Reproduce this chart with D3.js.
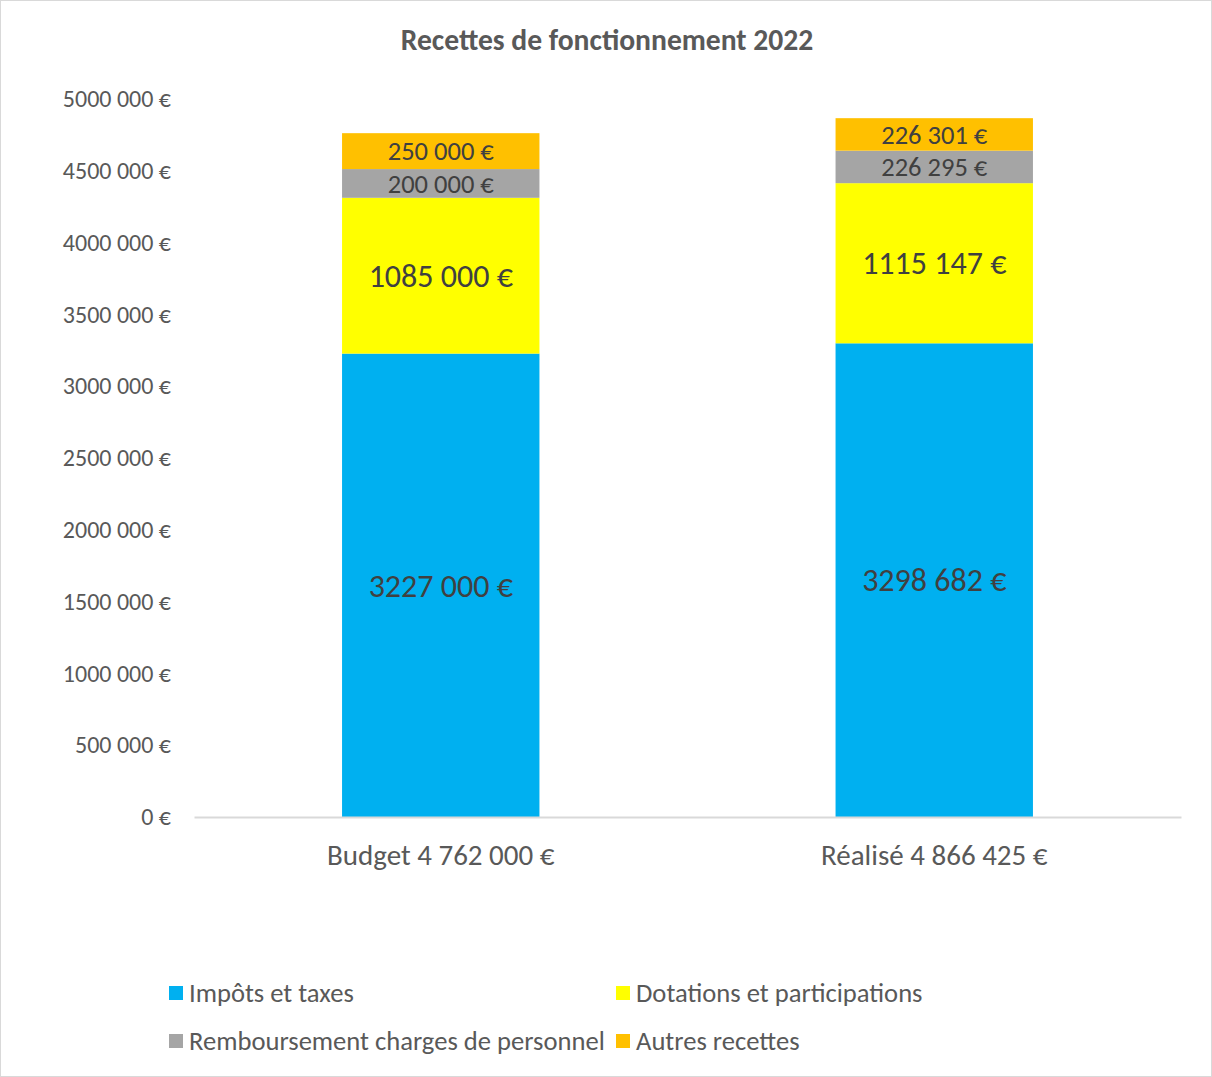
<!DOCTYPE html>
<html>
<head>
<meta charset="utf-8">
<script src="https://cdn.jsdelivr.net/npm/d3@7"></script>
<style>
  body { margin: 0; background: #fff; }
  svg text { font-family: Carlito, Calibri, Lato, sans-serif; }
</style>
</head>
<body>
<div id="vis"></div>
<script>
const FRAME_WIDTH = 1212;
const FRAME_HEIGHT = 1077;
const MARGINS = {left: 194, right: 31, top: 99, bottom: 260};

const CATEGORIES = ["Budget 4 762 000 €", "Réalisé 4 866 425 €"];
const SERIES = ["Impôts et taxes", "Dotations et participations", "Remboursement charges de personnel", "Autres recettes"];
const IMPOTS = [3227000, 3298682];
const DOTATIONS = [1085000, 1115147];
const REMBOURSEMENT = [200000, 226295];
const AUTRES = [250000, 226301];
const Y_TICKS = [0, 500000, 1000000, 1500000, 2000000, 2500000, 3000000, 3500000, 4000000, 4500000, 5000000];
const COLORS = ["#00b0f0", "#ffff00", "#a5a5a5", "#ffc000"];

// format "3227 000 €" like excel does (space only before last 3 digits)
function fmt(v) {
  if (v === 0) return "0 €";
  const s = String(v);
  return s.slice(0, -3) + " " + s.slice(-3) + " €";
}

const ROWS = CATEGORIES.map((c, i) => ({
  cat: c,
  s0: IMPOTS[i], s1: DOTATIONS[i], s2: REMBOURSEMENT[i], s3: AUTRES[i]
}));
const STACK = d3.stack().keys(["s0", "s1", "s2", "s3"])(ROWS);

const X_SCALE = d3.scaleBand()
  .domain(CATEGORIES)
  .range([MARGINS.left, FRAME_WIDTH - MARGINS.right])
  .paddingInner(0.6)
  .paddingOuter(0.3);

const Y_SCALE = d3.scaleLinear()
  .domain([0, 5000000])
  .range([FRAME_HEIGHT - MARGINS.bottom, MARGINS.top]);

const FRAME = d3.select("#vis")
  .append("svg")
    .attr("width", FRAME_WIDTH)
    .attr("height", FRAME_HEIGHT);

// chart border
FRAME.append("rect")
  .attr("x", 0.5).attr("y", 0.5)
  .attr("width", FRAME_WIDTH - 1).attr("height", FRAME_HEIGHT - 1)
  .attr("fill", "#fff")
  .attr("stroke", "#d9d9d9");

// title
FRAME.append("text")
  .attr("x", 607).attr("y", 40)
  .attr("dy", "0.35em")
  .attr("text-anchor", "middle")
  .attr("font-size", 29.6)
  .attr("font-weight", "bold")
  .attr("fill", "#595959")
  .text("Recettes de fonctionnement 2022");

// bars
FRAME.selectAll("g.series")
  .data(STACK)
  .enter()
  .append("g")
    .attr("class", "series")
    .attr("fill", (d, i) => COLORS[i])
  .selectAll("rect")
  .data((d) => d)
  .enter()
  .append("rect")
    .attr("x", (d) => X_SCALE(d.data.cat))
    .attr("y", (d) => Y_SCALE(d[1]))
    .attr("width", X_SCALE.bandwidth())
    .attr("height", (d) => Y_SCALE(d[0]) - Y_SCALE(d[1]));

// data labels (slightly smaller so the thin segments' labels don't collide)
STACK.forEach((s, i) => {
  FRAME.selectAll(null)
    .data(s)
    .enter()
    .append("text")
      .attr("x", (d) => X_SCALE(d.data.cat) + X_SCALE.bandwidth() / 2)
      .attr("y", (d) => (Y_SCALE(d[0]) + Y_SCALE(d[1])) / 2)
      .attr("dy", "0.35em")
      .attr("text-anchor", "middle")
      .attr("font-size", (i >= 2) ? 26.5 : 32)
      .attr("fill", "#404040")
      .text((d) => fmt(d[1] - d[0]));
});

// y axis
const Y_AXIS = FRAME.append("g")
  .attr("transform", "translate(" + MARGINS.left + ",0)")
  .call(d3.axisLeft(Y_SCALE).tickValues(Y_TICKS).tickFormat(fmt).tickSize(0).tickPadding(23));
Y_AXIS.select(".domain").remove();
Y_AXIS.selectAll("text")
  .attr("font-size", 24)
  .attr("fill", "#595959");

// x axis
const X_AXIS = FRAME.append("g")
  .attr("transform", "translate(0," + Y_SCALE(0) + ")")
  .call(d3.axisBottom(X_SCALE).tickSize(0).tickPadding(27));
X_AXIS.select(".domain")
  .attr("stroke", "#d9d9d9")
  .attr("stroke-width", 2);
X_AXIS.selectAll("text")
  .attr("font-size", 29)
  .attr("fill", "#595959");

// legend
const LEGEND_POS = [[169, 993], [616, 993], [169, 1041], [616, 1041]];
const LEGEND = FRAME.selectAll("g.legend")
  .data(SERIES)
  .enter()
  .append("g")
    .attr("class", "legend")
    .attr("transform", (d, i) => "translate(" + LEGEND_POS[i][0] + "," + LEGEND_POS[i][1] + ")");
LEGEND.append("rect")
  .attr("x", 0).attr("y", -7)
  .attr("width", 14).attr("height", 14)
  .attr("fill", (d, i) => COLORS[i]);
LEGEND.append("text")
  .attr("x", 20).attr("y", 0)
  .attr("dy", "0.35em")
  .attr("font-size", 26.6)
  .attr("fill", "#595959")
  .text((d) => d);
</script>
</body>
</html>
